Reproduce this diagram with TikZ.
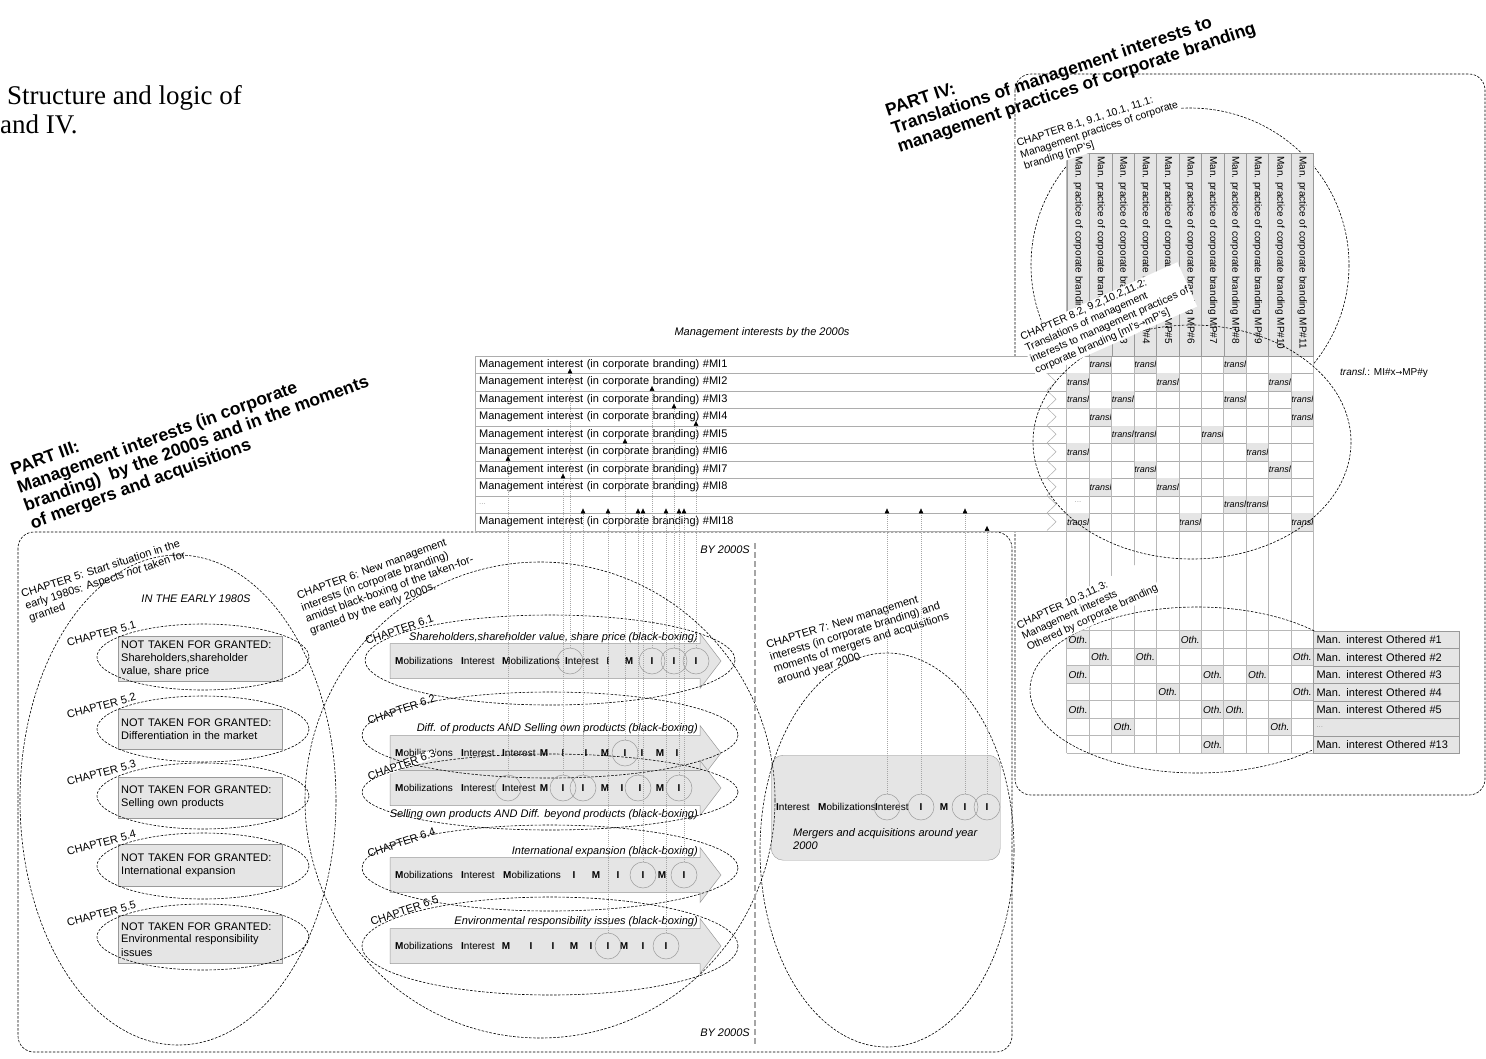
\documentclass[tikz,border=0pt]{standalone}
\usepackage{fontspec}
\setmainfont{Liberation Sans}
\newfontfamily\capfont{Liberation Serif}
\newfontfamily\djv{DejaVu Sans}
\usetikzlibrary{arrows.meta}
\definecolor{cellg}{gray}{0.9}
\definecolor{lineg}{gray}{0.6}
\definecolor{rowg}{gray}{0.68}
\newcommand\bandpath[1]{\path[band] (390,#1-17.5) -- (700,#1-17.5) -- (700,#1-27.5) -- (721,#1) -- (700,#1+27.5) -- (700,#1+17.5) -- (390,#1+17.5) -- cycle;}
\begin{document}
\begin{tikzpicture}[x=1pt,y=-1pt,
  fs11/.style={font=\fontsize{11}{13}\selectfont, inner sep=0pt},
  fs10/.style={font=\fontsize{10}{12}\selectfont, inner sep=0pt},
  it11/.style={font=\itshape\fontsize{11}{13}\selectfont, inner sep=0pt},
  chap/.style={font=\fontsize{11}{12.5}\selectfont, align=left, inner sep=0pt, anchor=south west},
  chapw/.style={font=\fontsize{10.5}{12}\selectfont, align=left, inner sep=1.5pt, anchor=south west, fill=white},
  ttl/.style={font=\bfseries\fontsize{17.5}{19}\selectfont, align=left, inner sep=0pt, anchor=south west},
  dl/.style={dash pattern=on 2.5pt off 1.5pt, line width=0.6pt},
  gridl/.style={draw=lineg!70, line width=0.5pt},
  mirow/.style={draw=rowg, fill=white, anchor=north west, minimum height=17.5pt, text width=830pt, inner xsep=4pt, inner ysep=0pt, align=left, font=\fontsize{11}{12}\selectfont},
  tcell/.style={anchor=north west, fill=cellg, minimum width=22.42pt, minimum height=17.5pt, inner sep=0pt, font=\itshape\fontsize{9}{10}\selectfont},
  ocell/.style={anchor=north west, fill=cellg, minimum width=22.42pt, minimum height=17.5pt, inner sep=0pt, font=\itshape\fontsize{10}{11}\selectfont},
  olab/.style={anchor=north west, fill=cellg, draw=lineg, minimum height=17.5pt, text width=140pt, inner xsep=3pt, inner ysep=0pt, align=left, font=\fontsize{11}{12}\selectfont},
  hcell/.style={anchor=north west, fill=cellg, draw=lineg, minimum width=22.42pt, minimum height=202.5pt, inner sep=0pt},
  htext/.style={rotate=-90, anchor=west, font=\fontsize{10}{12}\selectfont, inner sep=0pt},
  nbox/.style={anchor=north west, draw=lineg, fill=cellg, text width=158pt, inner xsep=3pt, inner ysep=2pt, align=left, font=\fontsize{11}{13}\selectfont},
  band/.style={fill=cellg, draw=lineg, line width=0.5pt},
  bw/.style={font=\fontsize{10}{12}\selectfont, inner sep=0pt},
  circ/.style={circle, draw=lineg, line width=0.5pt, minimum size=26pt, inner sep=0pt},
  conn/.style={draw=gray!70, line width=0.5pt, dash pattern=on 1pt off 1pt, -{Triangle[length=5pt,width=4.5pt,color=black]}},
  div/.style={draw=gray!70, line width=1.1pt, dash pattern=on 6pt off 3pt}
]
\useasboundingbox (0,0) rectangle (1486,1058);

% caption
\node[font=\capfont\fontsize{27}{30}\selectfont, anchor=base west, inner sep=0pt] (cap1) at (7,104) {Structure and logic of};
\node[font=\capfont\fontsize{27}{30}\selectfont, anchor=base west, inner sep=0pt] (cap2) at (0,133) {and IV.};

% titles
\node[ttl, rotate=18.5] (p4) at (901,156) {PART IV:\\Translations of management interests to\\management practices of corporate branding};
\node[ttl, rotate=20] (p3) at (34,533) {PART III:\\Management interests (in corporate\\branding)\ \ by the 2000s and in the moments\\of mergers and acquisitions};

% part boxes
\draw[dl, rounded corners=16pt] (18,532) rectangle (1012,1052);
\draw[dl, rounded corners=16pt] (1015,74) rectangle (1485,795);

% ellipse 8.1 (behind headers and rows)
\draw[dl] (1190,265) ellipse [x radius=159, y radius=157];

% MI table
\node[it11] (mih) at (762,333) {Management interests by the 2000s};
\foreach \n/\t [count=\i from 0] in {mi1/{Management interest (in corporate branding) \#MI1},
  mi2/{Management interest (in corporate branding) \#MI2},
  mi3/{Management interest (in corporate branding) \#MI3},
  mi4/{Management interest (in corporate branding) \#MI4},
  mi5/{Management interest (in corporate branding) \#MI5},
  mi6/{Management interest (in corporate branding) \#MI6},
  mi7/{Management interest (in corporate branding) \#MI7},
  mi8/{Management interest (in corporate branding) \#MI8},
  mid/{\textcolor{gray!70}{\fontsize{8}{9}\selectfont ...}},
  mi18/{Management interest (in corporate branding) \#MI18}}
  \node[mirow] (\n) at (475,{355.5+17.5*\i}) {\t};

% transl cells
\foreach \r/\c [count=\k] in {0/2,0/4,0/8,1/1,1/5,1/10,2/1,2/3,2/8,2/11,3/2,3/11,4/3,4/4,4/7,5/1,5/9,6/4,6/10,7/2,7/5,8/8,8/9,9/1,9/6,9/11}
  \node[tcell] (tr\k) at ({1066.7+22.42*(\c-1)},{355.5+17.5*\r}) {transl};
\node[font=\fontsize{8}{9}\selectfont, text=gray!70, inner sep=0pt] (tdots) at (1078,502) {...};

% Othered cells
\foreach \r/\c [count=\k] in {0/1,0/6,1/2,1/4,1/11,2/1,2/7,2/9,3/5,3/11,4/1,4/7,4/8,5/3,5/10,6/7}
  \node[ocell] (oc\k) at ({1066.7+22.42*(\c-1)},{630.7+17.5*\r}) {Oth.};

% grid lines
\foreach \c in {0,...,11}
  \draw[gridl] ({1066.7+22.42*\c},153) -- ({1066.7+22.42*\c},753.2);
\foreach \r in {0,...,7}
  \draw[gridl] (1066.7,{630.7+17.5*\r}) -- (1313.3,{630.7+17.5*\r});

% headers
\foreach \c in {1,...,11} {
  \node[hcell] (h\c) at ({1066.7+22.42*(\c-1)},153) {};
  \node[htext] (ht\c) at ([yshift=-3pt]h\c.north) {Man. practice of corporate branding MP\#\c};
}

% chevrons
\foreach \i in {0,...,9}
  \draw[rowg, line width=0.5pt] (1047,{355.5+17.5*\i}) -- (1056,{364.25+17.5*\i}) -- (1047,{373+17.5*\i});

% ellipses part IV
\draw[dl] (1192,442) ellipse [x radius=159, y radius=117];
\draw[dl] (1197,690) ellipse [x radius=167, y radius=83];

% Othered labels
\foreach \t [count=\i from 0] in {Man. interest Othered \#1, Man. interest Othered \#2, Man. interest Othered \#3, Man. interest Othered \#4, Man. interest Othered \#5, {\textcolor{gray!70}{\fontsize{8}{9}\selectfont ...}}, Man. interest Othered \#13}
  \node[olab] (ol\i) at (1313.3,{630.7+17.5*\i}) {\t};

% part IV chapter labels
\node[chapw, rotate=18] (c81) at (1025,174) {CHAPTER 8.1, 9.1, 10.1, 11.1:\\Management practices of corporate\\branding [mP's]};
\node[chapw, rotate=24] (c82) at (1037,378) {CHAPTER 8.2, 9.2,10.2,11.2:\\Translations of management\\interests to management practices of\\corporate branding [mI's{\djv\fontsize{8}{9}\selectfont →}mP's]};
\node[chapw, rotate=25] (c103) at (1029,655) {CHAPTER 10.3,11.3:\\Management interests\\Othered by corporate branding};
\node[fs10, anchor=west] (legend) at (1340,373) {\textit{transl.}: MI\#x{\djv\fontsize{8}{9}\selectfont →}MP\#y};

% ===== PART III =====
% chapter 5 boxes
\node[nbox, minimum height=45pt] (b51) at (118,636) {NOT TAKEN FOR GRANTED:\\Shareholders,shareholder\\value, share price};
\node[nbox, minimum height=40pt] (b52) at (118,709) {NOT TAKEN FOR GRANTED:\\Differentiation in the market};
\node[nbox, minimum height=41pt] (b53) at (118,777) {NOT TAKEN FOR GRANTED:\\Selling own products};
\node[nbox, minimum height=42pt] (b54) at (118,844) {NOT TAKEN FOR GRANTED:\\International expansion};
\node[nbox, minimum height=48pt] (b55) at (118,915) {NOT TAKEN FOR GRANTED:\\Environmental responsibility\\issues};
\node[it11] (e80) at (196,599) {IN THE EARLY 1980S};

% chapter 6 bands
\bandpath{661}
\bandpath{753}
\bandpath{788}
\bandpath{875}
\bandpath{946}

\node[it11, anchor=base east] (l61) at (698,640) {Shareholders,shareholder value, share price (black-boxing)};
\node[it11, anchor=base east] (l62) at (698,731) {Diff. of products AND Selling own products (black-boxing)};
\node[it11, anchor=base east] (l63) at (698,817) {Selling own products AND Diff. beyond products (black-boxing)};
\node[it11, anchor=base east] (l64) at (698,854) {International expansion (black-boxing)};
\node[it11, anchor=base east] (l65) at (698,924) {Environmental responsibility issues (black-boxing)};

\foreach \x/\a/\t [count=\k] in {395/west/{\textbf{M}obilizations}, 461/west/{\textbf{I}nterest}, 502/west/{\textbf{M}obilizations}, 565/west/{\textbf{I}nterest}, 608/center/\textbf{I}, 629/center/\textbf{M}, 652/center/\textbf{I}, 674/center/\textbf{I}, 696/center/\textbf{I}}
  \node[bw, anchor=\a] (w61-\k) at (\x,661) {\t};
\foreach \x/\a/\t [count=\k] in {395/west/{\textbf{M}obilizations}, 461/west/{\textbf{I}nterest}, 502/west/{\textbf{I}nterest}, 544/center/\textbf{M}, 563/center/\textbf{I}, 586/center/\textbf{I}, 605/center/\textbf{M}, 625/center/\textbf{I}, 642/center/\textbf{I}, 660/center/\textbf{M}, 677/center/\textbf{I}}
  \node[bw, anchor=\a] (w62-\k) at (\x,753) {\t};
\foreach \x/\a/\t [count=\k] in {395/west/{\textbf{M}obilizations}, 461/west/{\textbf{I}nterest}, 502/west/{\textbf{I}nterest}, 544/center/\textbf{M}, 563/center/\textbf{I}, 583/center/\textbf{I}, 605/center/\textbf{M}, 622/center/\textbf{I}, 640/center/\textbf{I}, 660/center/\textbf{M}, 679/center/\textbf{I}}
  \node[bw, anchor=\a] (w63-\k) at (\x,788) {\t};
\foreach \x/\a/\t [count=\k] in {395/west/{\textbf{M}obilizations}, 461/west/{\textbf{I}nterest}, 503/west/{\textbf{M}obilizations}, 574/center/\textbf{I}, 596/center/\textbf{M}, 618/center/\textbf{I}, 643/center/\textbf{I}, 662/center/\textbf{M}, 684/center/\textbf{I}}
  \node[bw, anchor=\a] (w64-\k) at (\x,875) {\t};
\foreach \x/\a/\t [count=\k] in {395/west/{\textbf{M}obilizations}, 461/west/{\textbf{I}nterest}, 506/center/\textbf{M}, 531/center/\textbf{I}, 553/center/\textbf{I}, 574/center/\textbf{M}, 591/center/\textbf{I}, 608/center/\textbf{I}, 624/center/\textbf{M}, 643/center/\textbf{I}, 666/center/\textbf{I}}
  \node[bw, anchor=\a] (w65-\k) at (\x,946) {\t};

% chapter 7 box
\node[draw=lineg, fill=cellg, rounded corners=12pt, minimum width=229pt, minimum height=105pt, anchor=north west, inner sep=0pt] (m7) at (771,755) {};
\foreach \x/\a/\t [count=\k] in {776/west/{\textbf{I}nterest}, 818/west/{\textbf{M}obilizations}, 875/west/{\textbf{I}nterest}, 921/center/\textbf{I}, 944/center/\textbf{M}, 965/center/\textbf{I}, 987/center/\textbf{I}}
  \node[bw, anchor=\a] (w7-\k) at (\x,807) {\t};
\node[it11, anchor=north west, align=left, font=\itshape\fontsize{11}{13}\selectfont] (m7t) at (793,828) {Mergers and acquisitions around year\\2000};

% chapter labels part III
\node[chap, rotate=18] (c5) at (31,624) {CHAPTER 5: Start situation in the\\early 1980s: Aspects \textit{not} taken for\\granted};
\node[chap, rotate=15] (c51) at (68,647) {CHAPTER 5.1};
\node[chap, rotate=15] (c52) at (68,719) {CHAPTER 5.2};
\node[chap, rotate=15] (c53) at (68,786) {CHAPTER 5.3};
\node[chap, rotate=15] (c54) at (68,856) {CHAPTER 5.4};
\node[chap, rotate=15] (c55) at (68,927) {CHAPTER 5.5};
\node[chap, rotate=20] (c6) at (312,637) {CHAPTER 6: New management\\interests (in corporate branding)\\amidst black-boxing of the taken-for-\\granted by the early 2000s.};
\node[chap, rotate=19] (c61) at (367,645) {CHAPTER 6.1};
\node[chap, rotate=19] (c62) at (369,725) {CHAPTER 6.2};
\node[chap, rotate=19, fill=white, inner sep=0.5pt] (c63) at (369,781) {CHAPTER 6.3};
\node[chap, rotate=19] (c64) at (369,858) {CHAPTER 6.4};
\node[chap, rotate=19] (c65) at (372,926) {CHAPTER 6.5};
\node[chap, rotate=17] (c7) at (779,687) {CHAPTER 7: New management\\interests (in corporate branding) and\\moments of mergers and acquisitions\\around year 2000};

% ellipses part III
\draw[dl] (178,800) ellipse [x radius=158, y radius=245];
\foreach \cy in {657,729,796,866,937}
  \draw[dl] (203,\cy) ellipse [x radius=106, y radius=33];
\draw[dl] (540,800) ellipse [x radius=235, y radius=238];
\draw[dl] (550,660) ellipse [x radius=185, y radius=45];
\draw[dl] (550,735) ellipse [x radius=188, y radius=43];
\draw[dl] (550,792) ellipse [x radius=188, y radius=38];
\draw[dl] (550,868) ellipse [x radius=188, y radius=43];
\draw[dl] (550,946) ellipse [x radius=188, y radius=49];
\draw[dl] (887,850) ellipse [x radius=127, y radius=197];

% divider
\draw[div] (755,543) -- (755,1045);
\node[it11, anchor=east] (by1) at (750,550) {BY 2000S};
\node[it11, anchor=east] (by2) at (750,1033) {BY 2000S};

% circles
\node[circ] (c61a) at (570,661) {};
\node[circ] (c61b) at (652,661) {};
\node[circ] (c61c) at (674,661) {};
\node[circ] (c61d) at (696,661) {};
\node[circ] (c62a) at (625,753) {};
\node[circ] (c63a) at (508,788) {};
\node[circ] (c63b) at (563,788) {};
\node[circ] (c63c) at (583,788) {};
\node[circ] (c63d) at (638,788) {};
\node[circ] (c63e) at (679,788) {};
\node[circ] (c64a) at (643,875) {};
\node[circ] (c64b) at (684,875) {};
\node[circ] (c65a) at (608,946) {};
\node[circ] (c65b) at (666,946) {};
\node[circ] (c7a) at (887,807) {};
\node[circ] (c7b) at (921,807) {};
\node[circ] (c7c) at (965,807) {};
\node[circ] (c7d) at (987,807) {};

% connectors
\draw[conn] (c61a.north) -- ([yshift=5pt]c61a.north |- mi1.south);
\draw[conn] (c61b.north) -- ([yshift=5pt]c61b.north |- mi2.south);
\draw[conn] (c61c.north) -- ([yshift=5pt]c61c.north |- mi3.south);
\draw[conn] (c61d.north) -- ([yshift=5pt]c61d.north |- mi4.south);
\draw[conn] (c62a.north) -- ([yshift=5pt]c62a.north |- mi5.south);
\draw[conn] (c63a.north) -- ([yshift=5pt]c63a.north |- mi6.south);
\draw[conn] (c63b.north) -- ([yshift=5pt]c63b.north |- mi7.south);
\foreach \c in {c63c,c63d,c63e,c64a,c64b,c65a,c65b,c7a,c7b,c7c}
  \draw[conn] (\c.north) -- ([yshift=5pt]\c.north |- mid.south);
\draw[conn] (c7d.north) -- ([yshift=5pt]c7d.north |- mi18.south);

\end{tikzpicture}
\end{document}
